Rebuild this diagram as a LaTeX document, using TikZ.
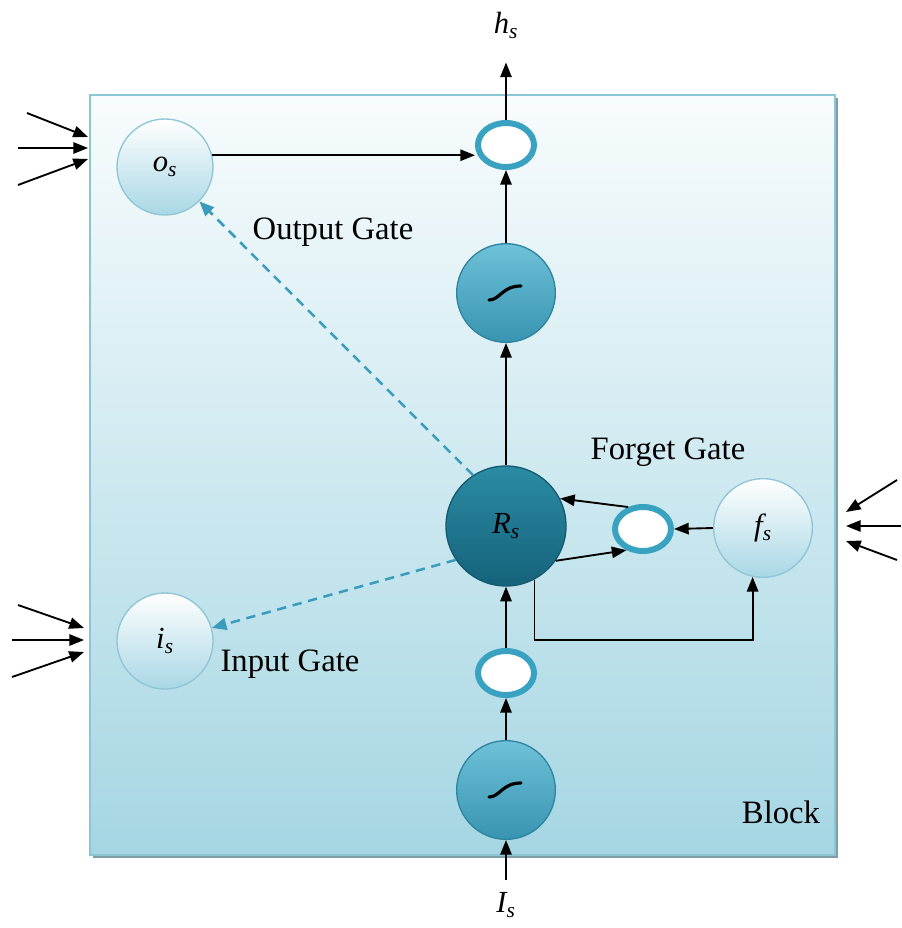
\documentclass[tikz,border=0pt]{standalone}
\usepackage{fontspec}
\setmainfont{Liberation Serif}
\usetikzlibrary{arrows.meta,shapes.geometric,calc}

\definecolor{blocktop}{HTML}{F8FCFD}
\definecolor{blockbot}{HTML}{A5D6E3}
\definecolor{blockedge}{HTML}{8CC6D3}
\definecolor{blockshadow}{HTML}{7C9FA8}
\definecolor{paleedge}{HTML}{8FC5D4}
\definecolor{palebot}{HTML}{A8D7E5}
\definecolor{midtop}{HTML}{6EC1D8}
\definecolor{midbot}{HTML}{3894B1}
\definecolor{midedge}{HTML}{2F84A0}
\definecolor{darktop}{HTML}{2A8CA4}
\definecolor{darkbot}{HTML}{15627A}
\definecolor{darkedge}{HTML}{135A70}
\definecolor{ringcol}{HTML}{3AA2C1}
\definecolor{dashcol}{HTML}{3A9CBD}

\begin{document}
\begin{tikzpicture}[x=0.75pt,y=-0.75pt,
  txt/.style={font=\fontsize{24.5}{28}\selectfont, inner sep=0pt},
  sym/.style={font=\fontsize{23}{27}\selectfont\itshape, inner sep=0pt},
  paleball/.style={circle, draw=paleedge, line width=1pt, top color=white,
    bottom color=palebot, minimum size=72pt, inner sep=0pt,
    font=\fontsize{23}{27}\selectfont\itshape},
  midball/.style={circle, draw=midedge, line width=1pt, top color=midtop,
    bottom color=midbot, minimum size=74pt, inner sep=0pt},
  darkball/.style={circle, draw=darkedge, line width=1pt, top color=darktop,
    bottom color=darkbot, minimum size=90pt, inner sep=0pt,
    font=\fontsize{23}{27}\selectfont\itshape},
  mult/.style={ellipse, draw=ringcol, line width=4.5pt, fill=white,
    minimum width=42pt, minimum height=33pt, inner sep=0pt, outer sep=auto},
  arr/.style={-{Triangle[length=11pt,width=8.5pt]}, line width=1.4pt},
  gatearr/.style={dashed, dash pattern=on 7pt off 5pt, draw=dashcol,
    line width=1.9pt, -{Triangle[length=11pt,width=9pt]}, color=dashcol},
  sigm/.pic={\draw[line width=2.4pt, line cap=round]
    (-17,7) .. controls (-6,7) and (-4,-7) .. (15,-7);}
]
\useasboundingbox (0,0) rectangle (901,928);

% the memory block with its drop shadow
\fill[blockshadow] (93,98) rectangle (838,858);
\shade[top color=blocktop, bottom color=blockbot, draw=blockedge, line width=1.5pt]
  (90,95) rectangle (835,855);

% gates and cell
\node[paleball] (os) at (165,167) {o\textsubscript{s}};
\node[paleball] (is) at (165,641) {i\textsubscript{s}};
\node[paleball, minimum size=74pt] (fs) at (763,528) {f\textsubscript{s}};
\node[darkball] (Rs) at (506,526) {R\textsubscript{s}};
\node[midball] (t1) at (506,293) {};
\node[midball] (t2) at (506,790) {};
\pic at (t1) {sigm};
\pic at (t2) {sigm};
\node[mult] (mo) at (506,145) {};
\node[mult] (mf) at (643,529) {};
\node[mult] (mi) at (506,673) {};

% external labels
\node[sym] (hs) at (506,25) {h\textsubscript{s}};
\node[sym] (Is) at (506,905) {I\textsubscript{s}};

% text labels
\node[txt] at (333,232) {Output Gate};
\node[txt] at (668,452) {Forget Gate};
\node[txt] at (290,664) {Input Gate};
\node[txt] at (781,812) {Block};

% main vertical path
\draw[arr] (Is.north) ++(0,-12) -- (t2.south);
\draw[arr] (t2.north) -- (mi.south);
\draw[arr] (mi.north) -- (Rs.south);
\draw[arr] (Rs.north) -- (t1.south);
\draw[arr] (t1.north) -- (mo.south);
\draw[arr, shorten >=18pt] (mo.north) -- (hs.south);

% output gate to output multiplier
\coordinate (oin) at (mo.west |- os.14);
\draw[arr] (os.14) -- (oin);

% forget loop
\draw[arr] (fs.west) -- (mf.east);
\draw[arr] (mf.124) -- (Rs.27);
\draw[arr] (Rs.-35) -- (mf.232);
\coordinate (lp) at (640,640);
\draw[arr] (Rs.-62) |- (lp) -| (fs.-102);

% gate control lines
\draw[gatearr] (Rs.123) -- (os);
\draw[gatearr] (Rs.214) -- (is);

% inputs arriving at the gates
\coordinate (a1) at (27,113); \coordinate (b1) at (88,137);
\coordinate (a2) at (18,148); \coordinate (b2) at (88,148);
\coordinate (a3) at (18,185); \coordinate (b3) at (88,159);
\coordinate (c1) at (18,605); \coordinate (d1) at (84,628);
\coordinate (c2) at (12,640); \coordinate (d2) at (84,640);
\coordinate (c3) at (12,677); \coordinate (d3) at (84,652);
\coordinate (e1) at (897,480); \coordinate (g1) at (846,512);
\coordinate (e2) at (901,526); \coordinate (g2) at (846,526);
\coordinate (e3) at (897,560); \coordinate (g3) at (846,541);
\foreach \s/\t in {a1/b1,a2/b2,a3/b3,c1/d1,c2/d2,c3/d3,e1/g1,e2/g2,e3/g3}
  \draw[arr] (\s) -- (\t);
\end{tikzpicture}
\end{document}
